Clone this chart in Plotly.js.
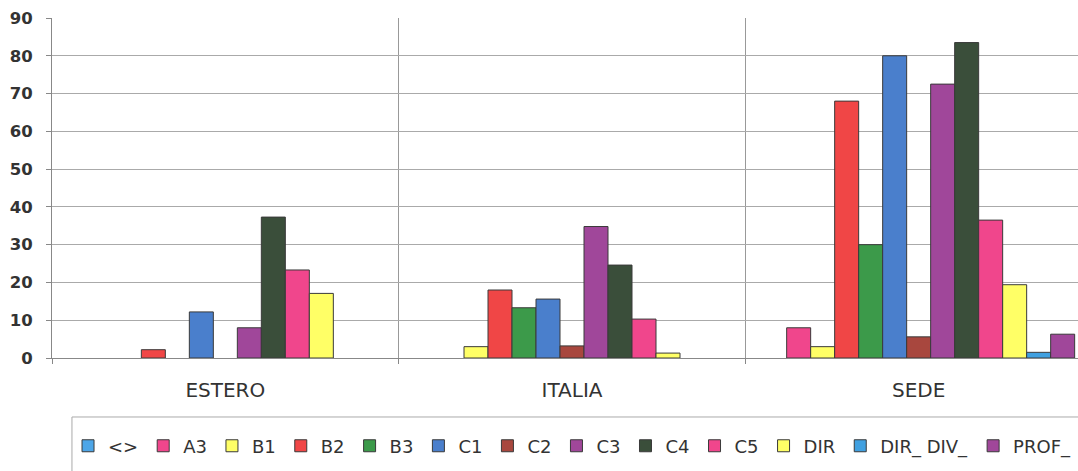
<!DOCTYPE html>
<html><head><meta charset="utf-8">
<script src="https://cdn.plot.ly/plotly-3.0.1.min.js"></script>
<style>
html,body{margin:0;padding:0;overflow:hidden;background:#fff;width:1078px;height:471px}
#chart{width:1200px;height:471px}
</style></head>
<body><div id="chart"></div>
<script>
const categories = ['ESTERO', 'ITALIA', 'SEDE'];
const seriesNames = ['<>', 'A3', 'B1', 'B2', 'B3', 'C1', 'C2', 'C3', 'C4', 'C5', 'DIR', 'DIR_ DIV_', 'PROF_'];
const seriesColors = ['#4da6e8', '#f0468c', '#ffff66', '#f04646', '#3c9a4a', '#4a7fcc', '#a8473e', '#a0479a', '#3a4e3a', '#f0468c', '#ffff66', '#40a0e0', '#a0479a'];
const esteroValues = [null, null, null, 2.2, null, 12.2, null, 8, 37.3, 23.3, 17.1, null, null];
const italiaValues = [null, null, 3, 18, 13.3, 15.6, 3.2, 34.8, 24.6, 10.3, 1.3, null, null];
const sedeValues   = [null, 8, 3, 68, 30, 80, 5.6, 72.5, 83.5, 36.5, 19.4, 1.5, 6.3];
const yTickValues = [0, 10, 20, 30, 40, 50, 60, 70, 80, 90];

const traces = seriesNames.map((name, i) => ({
  type: 'bar',
  name: name,
  x: categories,
  y: [esteroValues[i], italiaValues[i], sedeValues[i]],
  marker: {color: seriesColors[i], line: {color: '#3a3a3a', width: 1}},
  hoverinfo: 'none'
}));

const layout = {
  width: 1200, height: 471,
  margin: {l: 52, r: 108, t: 18, b: 113, autoexpand: false},
  barmode: 'group', bargap: 0.1, bargroupgap: 0,
  paper_bgcolor: '#ffffff', plot_bgcolor: '#ffffff',
  font: {family: 'DejaVu Sans', color: '#333333'},
  xaxis: {
    type: 'category', range: [-0.5, 2.5], tickson: 'boundaries',
    showgrid: true, gridcolor: '#999999', gridwidth: 1,
    ticks: 'outside', ticklen: 5, tickcolor: '#888888',
    showline: true, linecolor: '#888888', linewidth: 1,
    tickfont: {size: 20, color: '#333333'}, ticklabelstandoff: 14, automargin: false
  },
  yaxis: {
    range: [0, 90], tickvals: yTickValues,
    showgrid: true, gridcolor: '#aaaaaa', gridwidth: 1, zeroline: false,
    showline: true, linecolor: '#888888', linewidth: 1,
    ticks: 'outside', ticklen: 5, tickcolor: '#888888',
    tickfont: {size: 16.5, weight: 'bold', color: '#333333'}, ticklabelstandoff: 10, automargin: false
  },
  showlegend: true,
  legend: {
    orientation: 'h', x: 0.0154, xanchor: 'left', y: -0.259, yanchor: 'middle',
    font: {size: 18, color: '#333333'}, bgcolor: 'rgba(0,0,0,0)', borderwidth: 0,
    traceorder: 'normal'
  },
  shapes: [{
    type: 'rect', xref: 'paper', yref: 'paper',
    x0: 0.0192, x1: 1.1, y0: -0.1735, y1: -0.45,
    line: {color: '#aaaaaa', width: 1}, fillcolor: 'rgba(0,0,0,0)', layer: 'below'
  }]
};

Plotly.newPlot('chart', traces, layout, {displayModeBar: false, staticPlot: true});
</script>
</body></html>
